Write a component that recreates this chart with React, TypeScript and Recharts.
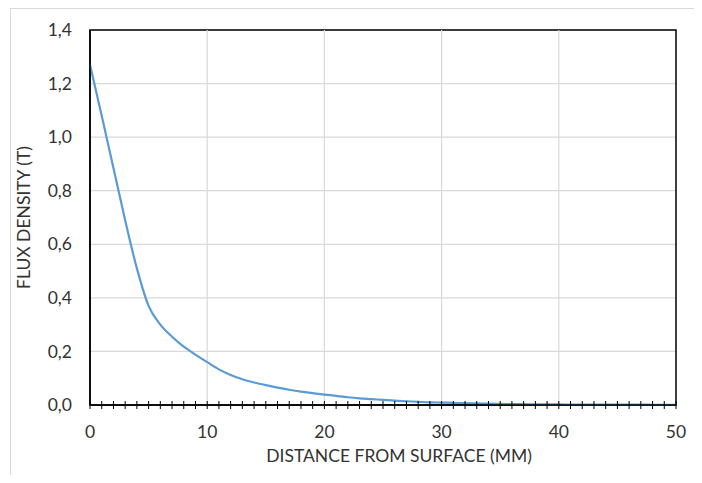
import React from "react";
import {
  LineChart,
  Line,
  XAxis,
  YAxis,
  CartesianGrid,
  ReferenceLine,
  ReferenceArea,
} from "recharts";

// distance from surface (mm) and flux density (T)
const distance = [
  0, 1, 2, 3, 4, 5, 6, 7, 8, 9, 10, 11, 12, 13, 14, 15, 16, 17, 18, 19, 20,
  21, 22, 23, 24, 25, 26, 27, 28, 29, 30, 31, 32, 33, 34, 35, 36, 37, 38, 39,
  40, 41, 42, 43, 44, 45, 46, 47, 48, 49, 50,
];
const flux = [
  1.27, 1.08, 0.885, 0.69, 0.51, 0.37, 0.3, 0.255, 0.218, 0.188, 0.16, 0.133,
  0.112, 0.096, 0.084, 0.074, 0.065, 0.057, 0.05, 0.044, 0.039, 0.034, 0.029,
  0.025, 0.022, 0.019, 0.016, 0.014, 0.012, 0.01, 0.009, 0.008, 0.007, 0.006,
  0.005, 0.004, 0.0035, 0.003, 0.0027, 0.0024, 0.002, 0.0018, 0.0016, 0.0015,
  0.0014, 0.0013, 0.0012, 0.0011, 0.001, 0.001, 0.001,
];
const xMinorTicks = distance;
const xMajorTicks = [0, 10, 20, 30, 40, 50];
const xGridLines = [10, 20, 30, 40];
const yTicks = [0, 0.2, 0.4, 0.6, 0.8, 1.0, 1.2, 1.4];

const data = distance.map((d, i) => ({ d, b: flux[i] }));

const FONT = "Lato, 'Open Sans', sans-serif";
const TEXT = "#333";
const SIZE = 17.5;

// eslint-disable-next-line @typescript-eslint/no-explicit-any
const XTick = (props: any) => {
  const { x, y, payload } = props;
  const major = xMajorTicks.includes(payload.value);
  return (
    <g>
      <line x1={x} x2={x} y1={y - 4} y2={y + 4} stroke="#000" strokeWidth={1} />
      {major && (
        <text
          x={x}
          y={y + 33}
          textAnchor="middle"
          fill={TEXT}
          fontSize={SIZE}
          fontFamily={FONT}
        >
          {payload.value}
        </text>
      )}
    </g>
  );
};

export default function App() {
  return (
    <div
      style={{
        margin: -8,
        width: 702,
        height: 483,
        position: "relative",
        background: "#fff",
      }}
    >
      <div
        style={{
          position: "absolute",
          left: 10,
          top: 8,
          width: 690,
          height: 472,
          border: "1px solid #d9d9d9",
          boxSizing: "border-box",
        }}
      />
      <LineChart
        width={702}
        height={483}
        data={data}
        margin={{ top: 30, right: 26, bottom: 0, left: 0 }}
        style={{ position: "absolute", left: 0, top: 0 }}
      >
        <CartesianGrid vertical={false} stroke="#d9d9d9" strokeWidth={1.2} />
        {xGridLines.map((v) => (
          <ReferenceLine key={v} x={v} stroke="#d9d9d9" strokeWidth={1.2} />
        ))}
        <XAxis
          dataKey="d"
          type="number"
          domain={[0, 50]}
          ticks={xMinorTicks}
          interval={0}
          tick={<XTick />}
          tickLine={false}
          tickSize={0}
          tickMargin={0}
          height={78}
          axisLine={{ stroke: "#000", strokeWidth: 1.5 }}
          label={{
            value: "DISTANCE FROM SURFACE (MM)",
            position: "insideBottom",
            offset: 21,
            dx: 16,
            fill: TEXT,
            fontSize: SIZE,
            fontFamily: FONT,
          }}
        />
        <YAxis
          type="number"
          domain={[0, 1.4]}
          ticks={yTicks}
          interval={0}
          width={90}
          tickLine={false}
          tickSize={0}
          tickMargin={18}
          axisLine={{ stroke: "#000", strokeWidth: 1.5 }}
          tickFormatter={(v: number) => v.toFixed(1).replace(".", ",")}
          tick={{ fill: TEXT, fontSize: SIZE, fontFamily: FONT }}
          label={{
            value: "FLUX DENSITY (T)",
            angle: -90,
            position: "insideLeft",
            offset: 24,
            style: { textAnchor: "middle" },
            fill: TEXT,
            fontSize: SIZE,
            fontFamily: FONT,
          }}
        />
        <ReferenceArea
          x1={0}
          x2={50}
          y1={0}
          y2={1.4}
          fill="none"
          stroke="#000"
          strokeWidth={1.5}
        />
        <Line
          type="monotone"
          dataKey="b"
          stroke="#5b9bd5"
          strokeWidth={2.2}
          dot={false}
          isAnimationActive={false}
        />
      </LineChart>
    </div>
  );
}
